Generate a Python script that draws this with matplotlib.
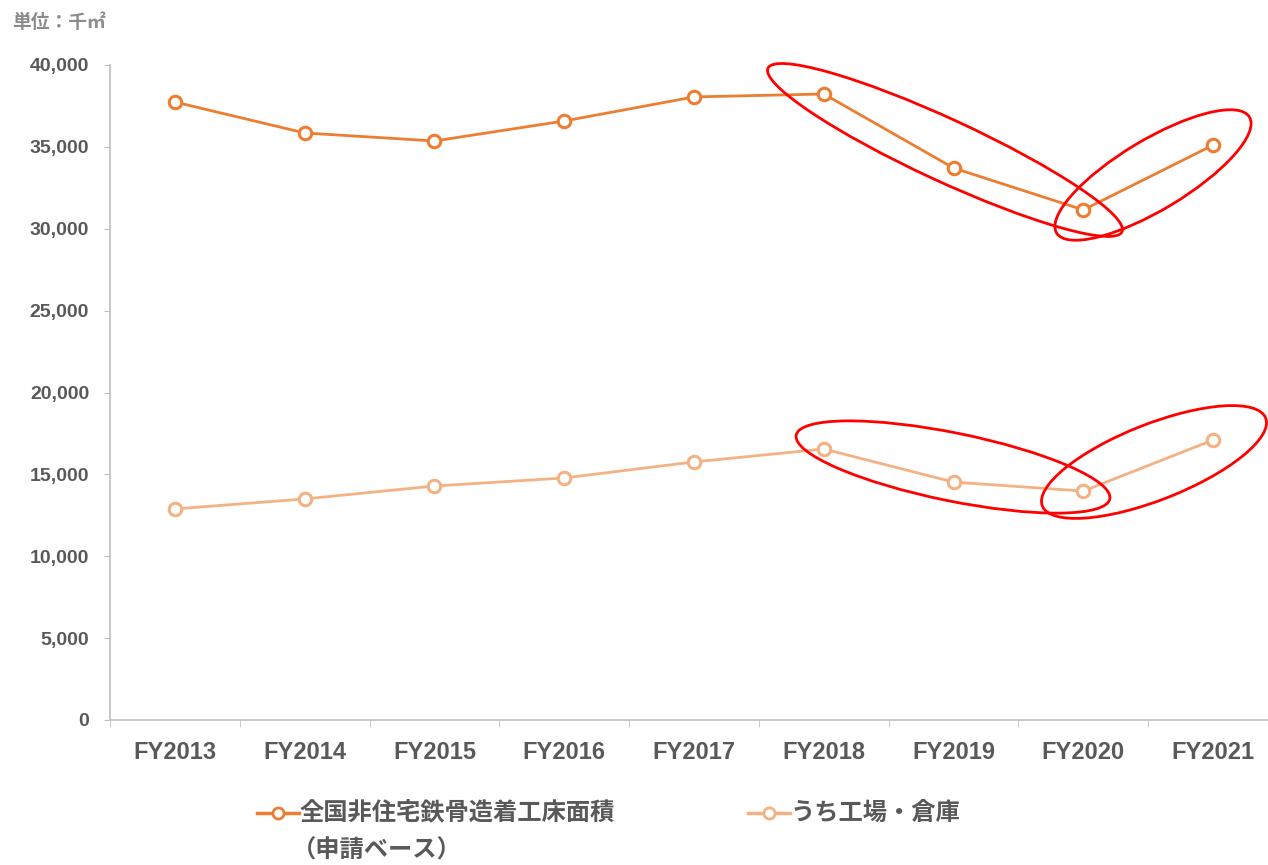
import matplotlib.pyplot as plt
from matplotlib.patches import Ellipse
from matplotlib.lines import Line2D
from matplotlib.ticker import FuncFormatter, FixedLocator

# データ（単位：千㎡）
years = ['FY2013', 'FY2014', 'FY2015', 'FY2016', 'FY2017',
         'FY2018', 'FY2019', 'FY2020', 'FY2021']
total_area = [37740, 35850, 35360, 36580, 38050, 38230, 33710, 31150, 35110]
factory_area = [12890, 13500, 14290, 14780, 15760, 16550, 14530, 13980, 17100]

label_total = '全国非住宅鉄骨造着工床面積'
label_total2 = '（申請ベース）'
label_factory = 'うち工場・倉庫'

c_total = '#ED7D31'
c_factory = '#F4B183'
c_text = '#595959'
c_axis = '#BFBFBF'

plt.rcParams['font.family'] = ['Noto Sans CJK JP', 'DejaVu Sans']
plt.rcParams['font.weight'] = 'bold'
latin = ['Liberation Sans', 'Noto Sans CJK JP']

W, H = 1268, 865
fig = plt.figure(figsize=(W / 100, H / 100), dpi=100)
ax = fig.add_axes([110 / W, (H - 720) / H, 1168 / W, 655 / H])

x = list(range(len(years)))
ax.plot(x, total_area, color=c_total, lw=2, marker='o', ms=9,
        mfc='white', mec=c_total, mew=2.2, zorder=3)
ax.plot(x, factory_area, color=c_factory, lw=2, marker='o', ms=9,
        mfc='white', mec=c_factory, mew=2.2, zorder=3)

ax.set_xlim(-0.5, len(years) - 0.5)
ax.set_ylim(0, 40000)
ax.set_yticks(range(0, 40001, 5000))
ax.yaxis.set_major_formatter(FuncFormatter(lambda v, p: f'{int(v):,}'))
ax.set_xticks(x)
ax.set_xticklabels(years)
ax.xaxis.set_minor_locator(FixedLocator([i - 0.5 for i in range(len(years) + 1)]))

for s in ['top', 'right']:
    ax.spines[s].set_visible(False)
for s in ['left', 'bottom']:
    ax.spines[s].set_color(c_axis)
    ax.spines[s].set_linewidth(1.2)

ax.tick_params(axis='x', which='major', length=0, pad=15,
               labelsize=17, labelcolor=c_text)
ax.tick_params(axis='x', which='minor', length=5, color=c_axis)
ax.tick_params(axis='y', length=4, color=c_axis, pad=11,
               labelsize=14, labelcolor=c_text)
for t in ax.get_xticklabels() + ax.get_yticklabels():
    t.set_fontweight('bold')
    t.set_family(latin)

fig.text(12 / W, 1 - 22 / H, '単位：千㎡', fontsize=13.5, color='#8C8C8C',
         va='center', ha='left')

# 凡例（手描き）
def legend_item(x0, y0, color, text):
    fig.add_artist(Line2D([x0 / W, (x0 + 42) / W], [1 - y0 / H, 1 - y0 / H],
                          transform=fig.transFigure, color=color, lw=2.5))
    fig.add_artist(Line2D([(x0 + 21) / W], [1 - y0 / H], transform=fig.transFigure,
                          color=color, marker='o', ms=8, mfc='white',
                          mec=color, mew=2, lw=0))
    fig.text((x0 + 43) / W, 1 - y0 / H, text, fontsize=17.5, color=c_text,
             va='center', ha='left', fontweight='bold')

legend_item(257, 813, c_total, label_total)
fig.text(292 / W, 1 - 851 / H, label_total2, fontsize=17.5, color=c_text,
         va='center', ha='left', fontweight='bold')
legend_item(748, 813, c_factory, label_factory)

# 赤い楕円（強調）
ov = fig.add_axes([0, 0, 1, 1], facecolor='none')
ov.set_xlim(0, W)
ov.set_ylim(H, 0)
ov.axis('off')
ellipses = [((945, 150), 390, 62, 24.8),
            ((1153, 175), 225, 70, -31),
            ((953, 467), 320, 68, 11.5),
            ((1154, 462), 240, 76, -21.5)]
for (cx, cy), w, h, ang in ellipses:
    ov.add_patch(Ellipse((cx, cy), w, h, angle=ang, fill=False,
                         ec='#FF0000', lw=2))

plt.savefig('out.png', dpi=100)
